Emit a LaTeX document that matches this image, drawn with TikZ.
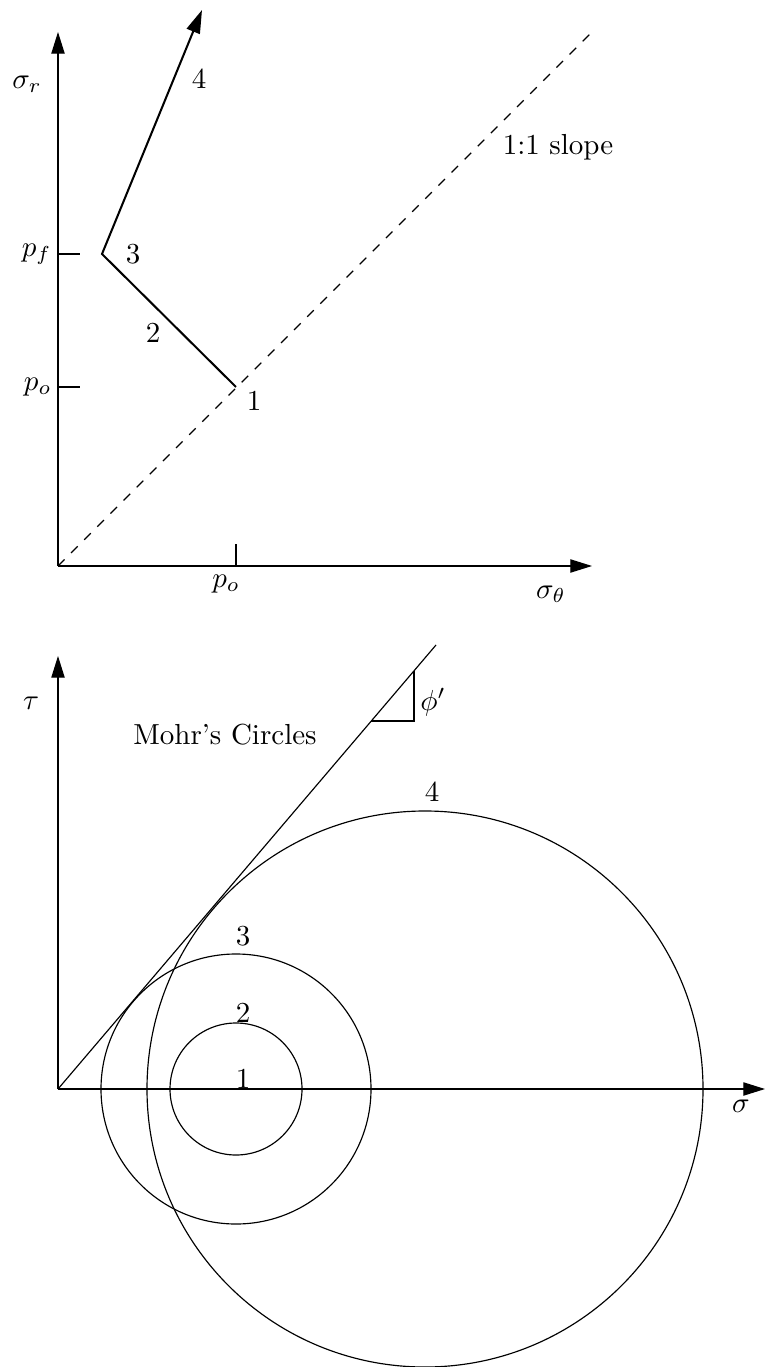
\documentclass[tikz,border=0pt]{standalone}
\usetikzlibrary{arrows.meta,calc}
\begin{document}
\begin{tikzpicture}[x=0.345pt,y=-0.345pt,
  axis/.style={line width=0.4pt,-{Triangle[length=7.5pt,width=4.6pt]}},
  loadpath/.style={line width=0.7pt,-{Triangle[length=8pt,width=4.8pt]}},
  thinline/.style={line width=0.4pt},
  slopeline/.style={line width=0.4pt,dash pattern=on 3.2pt off 3.2pt},
  lbl/.style={inner sep=0pt}]
\useasboundingbox (0,0) rectangle (765,1367);
% ---------- top diagram ----------
\coordinate (O1) at (58,566);
\coordinate (Y1) at (58,32);
\coordinate (X1) at (592,566);
\coordinate (D1) at (592,32);
\draw[axis] (O1) -- (Y1);
\draw[axis] (O1) -- (X1);
\draw[slopeline] (O1) -- (D1);
% ticks
\coordinate (pfA) at (58,254);  \coordinate (pfB) at (80,254);
\coordinate (poA) at (58,387);  \coordinate (poB) at (80,387);
\coordinate (phA) at (236,566); \coordinate (phB) at (236,544);
\draw[thinline] (pfA) -- (pfB);
\draw[thinline] (poA) -- (poB);
\draw[thinline] (phA) -- (phB);
% stress path
\coordinate (P1) at (236,387);
\coordinate (P3) at (102,254);
\coordinate (P4) at (202,10);
\draw[loadpath] (P1) -- (P3) -- (P4);
% labels
\node[lbl] (sr) at (27,84) {$\sigma_r$};
\node[lbl,anchor=east] (pf) at (52,254) {$p_f$};
\node[lbl,anchor=east] (po) at (52,387) {$p_o$};
\node[lbl] (poh) at (226,584) {$p_o$};
\node[lbl] (st) at (551,594) {$\sigma_\theta$};
\node[lbl] (s4) at (199,79) {4};
\node[lbl] (s3) at (133,254) {3};
\node[lbl] (s2) at (153,333) {2};
\node[lbl] (s1) at (254,401) {1};
\node[lbl] (sl) at (558,147) {1:1 slope};
% ---------- bottom diagram ----------
\coordinate (O2) at (58,1089);
\coordinate (Y2) at (58,656);
\coordinate (X2) at (765,1089);
\coordinate (T2) at (436,645);
\draw[axis] (O2) -- (Y2);
\draw[axis] (O2) -- (X2);
\draw[thinline] (O2) -- (T2);
\coordinate (C1) at (236,1089);
\coordinate (C4) at (425,1089);
\draw[thinline] (C1) circle[radius=66];
\draw[thinline] (C1) circle[radius=135];
\draw[thinline] (C4) circle[radius=278];
% friction angle marker
\coordinate (F1) at ($(O2)!0.8288!(T2)$);
\coordinate (F2) at ($(O2)!0.9418!(T2)$);
\draw[thinline] (F1) -| (F2);
% labels
\node[lbl] (tau) at (31,703) {$\tau$};
\node[lbl] (mc) at (225,735) {Mohr's Circles};
\node[lbl] (phi) at (433,702) {$\phi'$};
\node[lbl] (m4) at (432,792) {4};
\node[lbl] (m3) at (243,936) {3};
\node[lbl] (m2) at (243,1013) {2};
\node[lbl] (m1) at (243,1079) {1};
\node[lbl] (sg) at (741,1106) {$\sigma$};
\end{tikzpicture}
\end{document}
